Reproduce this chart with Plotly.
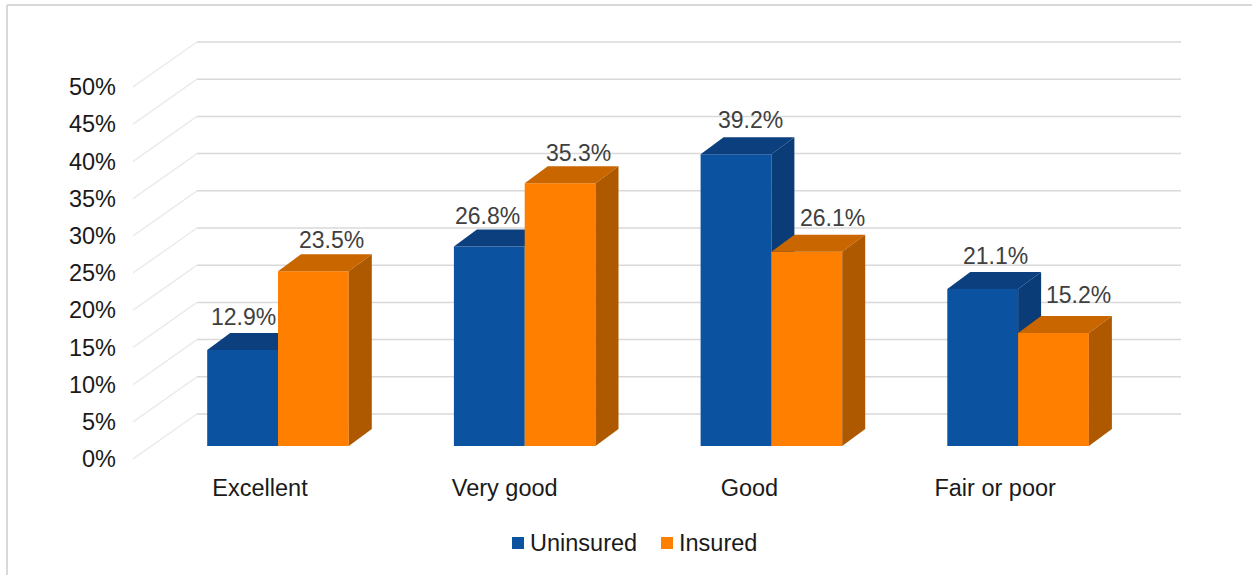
import plotly.graph_objects as go

# ---- data ----
categories = ["Excellent", "Very good", "Good", "Fair or poor"]
uninsured = [12.9, 26.8, 39.2, 21.1]
insured = [23.5, 35.3, 26.1, 15.2]
y_ticks = [0, 5, 10, 15, 20, 25, 30, 35, 40, 45, 50]
series_names = ["Uninsured", "Insured"]

# ---- styling and scale set-up ----
W, H = 1252, 575
L, R, T, B = 133, 1190, 30, 470          # plot area in page pixels
PX_PER_PCT = 7.44
PX_PER_CAT = 246.7
X0 = 278                                  # pixel of first category centre
Y0 = 459                                  # pixel of 0 %
xr = [(L - X0) / PX_PER_CAT, (R - X0) / PX_PER_CAT]
yr = [(Y0 - B) / PX_PER_PCT, (Y0 - T) / PX_PER_PCT]
PW, PH = R - L, B - T

BAR_W = 70.8 / PX_PER_CAT
FLOOR = 13 / PX_PER_PCT                   # bars stand a little behind the front edge
DX, DY = 23 / PX_PER_CAT, 17 / PX_PER_PCT # bar depth
WALL_DX, WALL_DY = 64 / PX_PER_CAT, 45 / PX_PER_PCT
WALL_RIGHT = (1181 - X0) / PX_PER_CAT

BLUE, BLUE_TOP, BLUE_SIDE = "#0B52A0", "#0B3F7E", "#0A3C78"
ORANGE, ORANGE_TOP, ORANGE_SIDE = "#FF8000", "#C96600", "#AE5900"
FONT = "Liberation Sans, Arial, sans-serif"


def px_x(p):
    return (p - L) / PW


def px_y(p):
    return (B - p) / PH


fig = go.Figure()

# gridlines on the side and back walls (lowest axes pair)
dx_, dy_, hx, hy = [], [], [], []
for t in y_ticks:
    dx_ += [xr[0], xr[0] + WALL_DX, None]
    dy_ += [t, t + WALL_DY, None]
    hx += [xr[0] + WALL_DX, WALL_RIGHT, None]
    hy += [t + WALL_DY, t + WALL_DY, None]
fig.add_trace(go.Scatter(x=dx_, y=dy_, mode="lines", line=dict(color="#EBEBEB", width=1.5),
                         showlegend=False, hoverinfo="skip"))
fig.add_trace(go.Scatter(x=hx, y=hy, mode="lines", line=dict(color="#D9D9D9", width=1.5),
                         showlegend=False, hoverinfo="skip"))


def add_series(name, values, color, top, side, left_offset, xa, ya):
    idx = list(range(len(values)))
    fig.add_trace(go.Bar(x=idx, y=values, base=FLOOR, width=BAR_W, offset=left_offset,
                         marker=dict(color=color, line=dict(width=0)), name=name, showlegend=False,
                         xaxis=xa, yaxis=ya, hovertemplate="%{y}%<extra>" + name + "</extra>"))
    for i, v in zip(idx, values):
        xl = i + left_offset
        xh = xl + BAR_W
        yt = v + FLOOR
        fig.add_trace(go.Scatter(
            x=[xl, xh, xh + DX, xl + DX, xl], y=[yt, yt, yt + DY, yt + DY, yt],
            mode="lines", fill="toself", fillcolor=top, line=dict(width=0),
            showlegend=False, hoverinfo="skip", xaxis=xa, yaxis=ya))
        fig.add_trace(go.Scatter(
            x=[xh, xh + DX, xh + DX, xh, xh], y=[yt, yt + DY, FLOOR + DY, FLOOR, yt],
            mode="lines", fill="toself", fillcolor=side, line=dict(width=0),
            showlegend=False, hoverinfo="skip", xaxis=xa, yaxis=ya))


add_series(series_names[0], uninsured, BLUE, BLUE_TOP, BLUE_SIDE, -BAR_W, "x2", "y2")
add_series(series_names[1], insured, ORANGE, ORANGE_TOP, ORANGE_SIDE, 0, "x3", "y3")

# data labels
label_shift = {
    "u": [(1, 16), (-2, 14), (14, 17), (13, 16)],
    "i": [(18, 14), (18, 13), (26, 17), (25, 21)],
}
annotations = []
for i, (v, sh) in enumerate(zip(uninsured, label_shift["u"])):
    annotations.append(dict(x=i - BAR_W / 2, y=v + FLOOR + DY, text=f"{v:.1f}%", xshift=sh[0], yshift=sh[1],
                            showarrow=False, xref="x", yref="y", font=dict(family=FONT, size=23, color="#404040")))
for i, (v, sh) in enumerate(zip(insured, label_shift["i"])):
    annotations.append(dict(x=i + BAR_W / 2, y=v + FLOOR + DY, text=f"{v:.1f}%", xshift=sh[0], yshift=sh[1],
                            showarrow=False, xref="x", yref="y", font=dict(family=FONT, size=23, color="#404040")))

# legend text, placed beside its swatch
for name, p in zip(series_names, [528, 677]):
    annotations.append(dict(x=px_x(p), y=px_y(543), text=name, xanchor="left", yanchor="middle", showarrow=False,
                            xref="paper", yref="paper", font=dict(family=FONT, size=23.5, color="#1A1A1A")))

tick_offsets = [-0.073, -0.081, -0.089, -0.093]
axis_common = dict(range=xr, showgrid=False, zeroline=False, showline=False, fixedrange=True)
yaxis_hidden = dict(range=yr, visible=False, fixedrange=True, overlaying="y")

shapes = [
    dict(type="line", xref="paper", yref="paper", x0=px_x(7), x1=px_x(7),
         y0=px_y(5), y1=px_y(575), line=dict(color="#D9D9D9", width=2)),
    dict(type="line", xref="paper", yref="paper", x0=px_x(7), x1=px_x(1252),
         y0=px_y(5), y1=px_y(5), line=dict(color="#D9D9D9", width=2)),
    dict(type="rect", xref="paper", yref="paper", x0=px_x(512), x1=px_x(524), y0=px_y(549), y1=px_y(537),
         fillcolor=BLUE, line=dict(width=0)),
    dict(type="rect", xref="paper", yref="paper", x0=px_x(661), x1=px_x(673), y0=px_y(549), y1=px_y(537),
         fillcolor=ORANGE, line=dict(width=0)),
]

fig.update_layout(
    width=W, height=H, autosize=False,
    margin=dict(l=L, r=W - R, t=T, b=H - B, pad=0, autoexpand=False),
    paper_bgcolor="white", plot_bgcolor="white",
    barmode="overlay", annotations=annotations, shapes=shapes,
    font=dict(family=FONT, size=23, color="#1A1A1A"),
    xaxis=dict(**axis_common, tickmode="array", automargin=False,
               tickvals=[i + o for i, o in enumerate(tick_offsets)], ticktext=categories,
               ticks="", ticklabelstandoff=1, tickfont=dict(family=FONT, size=23.5, color="#1A1A1A")),
    yaxis=dict(range=yr, showgrid=False, zeroline=False, showline=False, fixedrange=True, automargin=False,
               tickmode="array", tickvals=y_ticks, ticktext=[f"{t}%" for t in y_ticks],
               ticks="", ticklabelstandoff=16, tickfont=dict(family=FONT, size=23.5, color="#1A1A1A")),
    xaxis2=dict(**axis_common, overlaying="x", visible=False),
    yaxis2=yaxis_hidden,
    xaxis3=dict(**axis_common, overlaying="x", visible=False),
    yaxis3=yaxis_hidden,
    showlegend=False,
)

fig.write_html("out.html", config={"displayModeBar": False},
               post_script="document.body.style.margin='0';document.body.style.overflow='hidden';")
